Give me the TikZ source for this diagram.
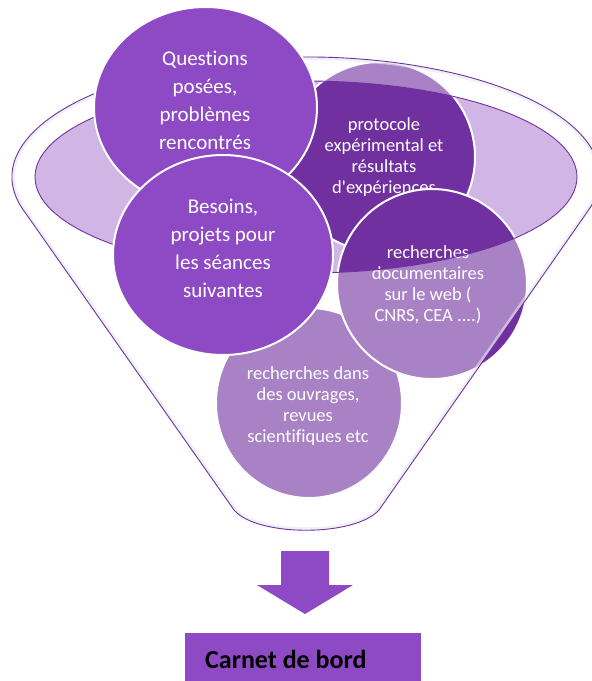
\documentclass[tikz,border=0pt]{standalone}
\usepackage{fontspec}
\setmainfont{Carlito}[Ligatures=NoCommon]
\usetikzlibrary{shapes.geometric}
\definecolor{midpurple}{HTML}{8E4AC5}
\definecolor{darkpurple}{HTML}{7030A0}
\definecolor{openfill}{HTML}{D1B6E5}
\definecolor{rimshade}{HTML}{E4E7F0}
\begin{document}
\begin{tikzpicture}[x=1pt,y=-1pt,
  bubble/.style={ellipse, draw=white, line width=2pt, inner sep=0pt, outer sep=0pt},
  bigtxt/.style={text=white, align=center, inner sep=0pt, font=\fontsize{21}{28}\selectfont},
  smalltxt/.style={text=white, align=center, inner sep=0pt, font=\fontsize{18.5}{20.8}\selectfont},
  rimline/.style={draw=darkpurple, line width=0.9pt},
]
\useasboundingbox (0,0) rectangle (592,681);
% opening of the funnel
\fill[openfill] (306,177) ellipse [x radius=271, y radius=96];
% circles behind the funnel front
\node[bubble, fill=darkpurple, minimum width=190pt, minimum height=190pt] (c2) at (380,157) {};
\node[smalltxt] (t2) at (384,157) {protocole\\expérimental et\\résultats\\d\textquotesingle expériences};
\node[bubble, fill=darkpurple, minimum width=186pt, minimum height=190pt] (c5) at (309,403) {};
\node[smalltxt] (t5) at (308,406) {recherches dans\\des ouvrages,\\revues\\scientifiques etc};
\node[bubble, fill=darkpurple, minimum width=190pt, minimum height=190pt] (c4) at (432,284) {};
\node[smalltxt] (t4) at (428,285) {recherches\\documentaires\\sur le web (\\CNRS, CEA ....)};
% funnel front (translucent)
\fill[white, fill opacity=0.4, even odd rule]
  (23,209.5) arc[start angle=164.27, end angle=375.73, x radius=294, y radius=120]
  -- (379,510) .. controls (355,537) and (257,537) .. (234,510) -- cycle
  (306,177) ellipse [x radius=271, y radius=96];
\begin{scope}
  \clip (23,209.5) arc[start angle=164.27, end angle=375.73, x radius=294, y radius=120]
    -- (379,510) .. controls (355,537) and (257,537) .. (234,510) -- cycle;
  \draw[rimshade, line width=6pt, opacity=0.6]
    (23,209.5) arc[start angle=164.27, end angle=375.73, x radius=294, y radius=120]
    -- (379,510) .. controls (355,537) and (257,537) .. (234,510) -- cycle;
\end{scope}
\draw[rimline] (306,177) ellipse [x radius=271, y radius=96];
\draw[rimline]
  (23,209.5) arc[start angle=164.27, end angle=375.73, x radius=294, y radius=120]
  -- (379,510) .. controls (355,537) and (257,537) .. (234,510) -- cycle;
% circles in front
\node[bubble, fill=midpurple, minimum width=223pt, minimum height=201pt] (c1) at (205.5,107.5) {};
\node[bigtxt] (t1) at (205,100) {Questions\\posées,\\problèmes\\rencontrés};
\node[bubble, fill=midpurple, minimum width=220pt, minimum height=200pt] (c3) at (223,255) {};
\node[bigtxt] (t3) at (223,248) {Besoins,\\projets pour\\les séances\\suivantes};
% block arrow
\fill[midpurple] (281,551) -- (329,551) -- (329,585) -- (353,585) -- (305,614)
  -- (257,585) -- (281,585) -- cycle;
% result box
\node[fill=midpurple, minimum width=236pt, minimum height=52pt, inner sep=0pt,
  anchor=north west] (box) at (185,633) {};
\node[anchor=base west, inner sep=0pt, text=black,
  font=\bfseries\fontsize{26}{30}\selectfont] (lbl) at (205,668) {Carnet de bord};
\end{tikzpicture}
\end{document}
